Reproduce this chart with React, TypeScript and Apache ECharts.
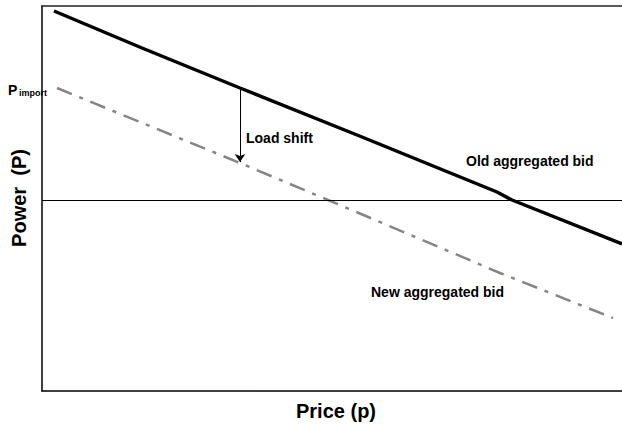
import React, { useEffect, useRef } from "react";
import * as echarts from "echarts";

// Old aggregated bid (price -> power)
const oldPrice = [12, 100, 198, 320, 455, 470, 580];
const oldPower = [189, 152, 112, 63, 8, 0, -44];
// New aggregated bid
const newPrice = [15, 198, 286, 458, 571];
const newPower = [112, 37, 0, -73, -118];
// Load shift arrow (price, from power, to power)
const shiftPrice = 198;
const shiftFrom = 112;
const shiftTo = 38;

const FONT = "Liberation Sans, Arial, sans-serif";

export default function App() {
  const ref = useRef<HTMLDivElement>(null);
  useEffect(() => {
    if (!ref.current) return;
    const chart = echarts.init(ref.current, undefined, { renderer: "svg" });
    chart.setOption({
      animation: false,
      grid: { left: 42, top: 6, right: 0, bottom: 34 },
      xAxis: [
        {
          type: "value",
          min: 0,
          max: 580,
          position: "bottom",
          axisLine: { show: true, onZero: false, lineStyle: { color: "#000", width: 1.5 } },
          axisTick: { show: false },
          axisLabel: { show: false },
          splitLine: { show: false },
        },
        {
          type: "value",
          min: 0,
          max: 580,
          position: "top",
          axisLine: { show: true, onZero: false, lineStyle: { color: "#222", width: 1.5 } },
          axisTick: { show: false },
          axisLabel: { show: false },
          splitLine: { show: false },
        },
      ],
      yAxis: {
        type: "value",
        min: -191,
        max: 194,
        axisLine: { show: true, onZero: false, lineStyle: { color: "#000", width: 1.5 } },
        axisTick: { show: false },
        axisLabel: { show: false },
        splitLine: { show: false },
      },
      series: [
        {
          type: "line",
          data: newPrice.map((p, i) => [p, newPower[i]]),
          symbol: "none",
          lineStyle: { color: "#858585", width: 2.5, type: [16, 8, 4, 8] },
          silent: true,
          markLine: {
            silent: true,
            symbol: ["none", "none"],
            label: { show: false },
            lineStyle: { color: "#000", width: 1, type: "solid" },
            data: [{ yAxis: 0 }],
          },
        },
        {
          type: "line",
          data: oldPrice.map((p, i) => [p, oldPower[i]]),
          symbol: "none",
          lineStyle: { color: "#000", width: 3.5 },
          silent: true,
          markLine: {
            silent: true,
            symbol: ["none", "arrow"],
            symbolSize: 8,
            label: { show: false },
            lineStyle: { color: "#000", width: 1, type: "solid" },
            data: [[{ coord: [shiftPrice, shiftFrom] }, { coord: [shiftPrice, shiftTo] }]],
          },
        },
      ],
      graphic: [
        { type: "text", left: 8, top: 83, style: { text: "P", font: `bold 14px ${FONT}`, fill: "#000" } },
        { type: "text", left: 19, top: 88, style: { text: "import", font: `bold 9px ${FONT}`, fill: "#000" } },
        { type: "text", left: 246, top: 131, style: { text: "Load shift", font: `bold 14px ${FONT}`, fill: "#000" } },
        { type: "text", left: 466, top: 154, style: { text: "Old aggregated bid", font: `bold 14px ${FONT}`, fill: "#000" } },
        { type: "text", left: 371, top: 285, style: { text: "New aggregated bid", font: `bold 14px ${FONT}`, fill: "#000" } },
        {
          type: "text",
          x: 19,
          y: 198,
          rotation: Math.PI / 2,
          style: { text: "Power  (P)", font: `bold 20px ${FONT}`, fill: "#000", align: "center", verticalAlign: "middle" },
        },
        {
          type: "text",
          x: 336,
          y: 411,
          style: { text: "Price (p)", font: `bold 20px ${FONT}`, fill: "#000", align: "center", verticalAlign: "middle" },
        },
      ],
    });
    return () => chart.dispose();
  }, []);
  return <div ref={ref} style={{ width: 622, height: 425, position: "absolute", left: 0, top: 0 }} />;
}
